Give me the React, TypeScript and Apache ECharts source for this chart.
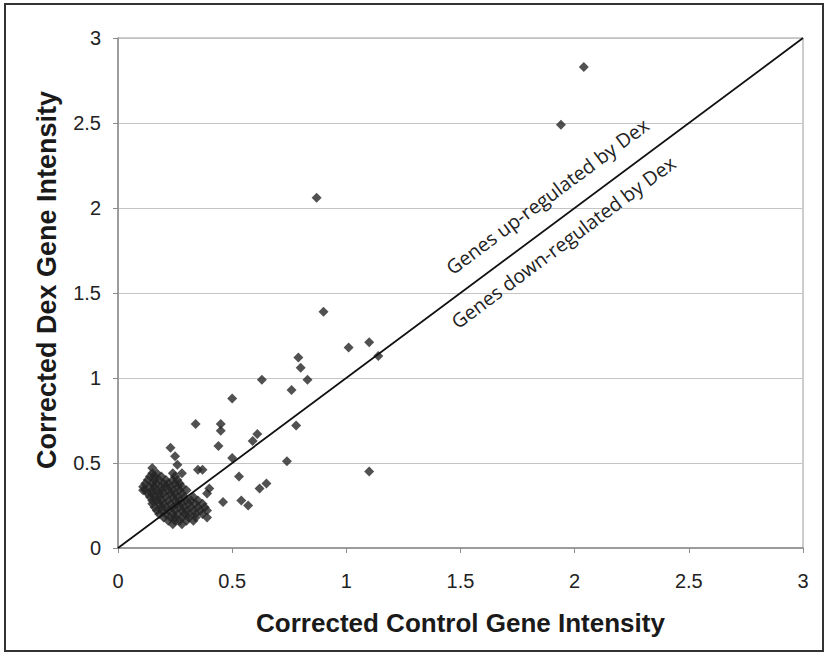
import React, { useEffect, useRef } from "react";
import * as echarts from "echarts";

const xTitle = "Corrected Control Gene Intensity";
const yTitle = "Corrected Dex Gene Intensity";
const upLabel = "Genes up-regulated by Dex";
const downLabel = "Genes down-regulated by Dex";

const axisMin = 0;
const axisMax = 3;
const axisInterval = 0.5;

// identity line endpoints (x = y)
const diagonal: number[][] = [
  [0, 0],
  [3, 3],
];

// anchor points (data coordinates) for the two annotations
const upLabelAnchor = [1.88, 2.07];
const downLabelAnchor = [1.95, 1.8];

// scattered genes outside the dense cluster
const scatterPoints: number[][] = [
  [2.04, 2.83], [1.94, 2.49], [0.87, 2.06], [0.9, 1.39],
  [1.01, 1.18], [1.1, 1.21], [1.14, 1.13], [0.79, 1.12],
  [0.8, 1.06], [0.83, 0.99], [0.63, 0.99], [0.76, 0.93],
  [0.5, 0.88], [0.34, 0.73], [0.45, 0.73], [0.45, 0.69],
  [0.78, 0.72], [0.61, 0.67], [0.59, 0.63], [0.44, 0.6],
  [0.23, 0.59], [0.25, 0.54], [0.5, 0.53], [0.74, 0.51],
  [1.1, 0.45], [0.26, 0.49], [0.35, 0.46], [0.37, 0.46],
  [0.53, 0.42], [0.28, 0.44], [0.62, 0.35], [0.65, 0.38],
  [0.46, 0.27], [0.54, 0.28], [0.57, 0.25], [0.39, 0.18],
  [0.39, 0.32], [0.4, 0.35], [0.11, 0.34], [0.15, 0.47],
];

// dense cluster of low-intensity genes
const clusterPoints: number[][] = [
  [0.15, 0.44], [0.17, 0.44], [0.24, 0.44],
  [0.14, 0.42], [0.16, 0.42], [0.19, 0.42], [0.25, 0.42],
  [0.13, 0.4], [0.16, 0.4], [0.18, 0.4], [0.21, 0.4], [0.24, 0.4], [0.26, 0.4],
  [0.12, 0.38], [0.15, 0.38], [0.17, 0.38], [0.2, 0.38], [0.22, 0.38], [0.25, 0.38], [0.27, 0.38],
  [0.11, 0.36], [0.14, 0.36], [0.16, 0.36], [0.19, 0.36], [0.21, 0.36], [0.23, 0.36], [0.26, 0.36], [0.28, 0.36],
  [0.12, 0.34], [0.15, 0.34], [0.17, 0.34], [0.19, 0.34], [0.22, 0.34], [0.24, 0.34], [0.27, 0.34], [0.3, 0.34],
  [0.13, 0.32], [0.15, 0.32], [0.18, 0.32], [0.2, 0.32], [0.23, 0.32], [0.25, 0.32], [0.28, 0.32],
  [0.14, 0.3], [0.16, 0.3], [0.18, 0.3], [0.21, 0.3], [0.24, 0.3], [0.26, 0.3], [0.29, 0.3], [0.33, 0.3],
  [0.15, 0.28], [0.17, 0.28], [0.19, 0.28], [0.22, 0.28], [0.25, 0.28], [0.27, 0.28], [0.3, 0.28], [0.32, 0.28], [0.35, 0.28],
  [0.15, 0.26], [0.18, 0.26], [0.2, 0.26], [0.23, 0.26], [0.26, 0.26], [0.28, 0.26], [0.31, 0.26], [0.34, 0.26], [0.37, 0.26],
  [0.16, 0.24], [0.19, 0.24], [0.21, 0.24], [0.24, 0.24], [0.27, 0.24], [0.29, 0.24], [0.32, 0.24], [0.35, 0.24], [0.38, 0.24],
  [0.17, 0.22], [0.19, 0.22], [0.22, 0.22], [0.25, 0.22], [0.28, 0.22], [0.3, 0.22], [0.33, 0.22], [0.36, 0.22], [0.39, 0.22],
  [0.18, 0.2], [0.21, 0.2], [0.24, 0.2], [0.26, 0.2], [0.29, 0.2], [0.31, 0.2], [0.34, 0.2], [0.37, 0.2],
  [0.2, 0.18], [0.23, 0.18], [0.25, 0.18], [0.28, 0.18], [0.31, 0.18], [0.34, 0.18],
  [0.22, 0.16], [0.25, 0.16], [0.27, 0.16], [0.3, 0.16], [0.33, 0.16],
  [0.24, 0.14], [0.28, 0.14],
];

export default function App() {
  const ref = useRef<HTMLDivElement>(null);

  useEffect(() => {
    if (!ref.current) return;
    const chart = echarts.init(ref.current, null, { renderer: "svg" });
    const labelFont = "'Liberation Sans', Arial, sans-serif";
    const option: any = {
      animation: false,
      backgroundColor: "#ffffff",
      grid: {
        left: 118,
        top: 38,
        right: 24,
        bottom: 108,
        show: true,
        borderColor: "#9a9a9a",
        borderWidth: 1,
        backgroundColor: "transparent",
      },
      xAxis: {
        type: "value",
        min: axisMin,
        max: axisMax,
        interval: axisInterval,
        name: xTitle,
        nameLocation: "middle",
        nameGap: 62,
        nameTextStyle: {
          fontFamily: labelFont,
          fontWeight: "bold",
          fontSize: 26,
          color: "#1a1a1a",
        },
        axisLine: { show: true, lineStyle: { color: "#8c8c8c", width: 1.5 } },
        axisTick: { show: true, inside: false, length: 5, lineStyle: { color: "#8c8c8c" } },
        splitLine: { show: false },
        axisLabel: { fontFamily: labelFont, fontSize: 20, color: "#222", margin: 23 },
      },
      yAxis: {
        type: "value",
        min: axisMin,
        max: axisMax,
        interval: axisInterval,
        name: yTitle,
        nameLocation: "middle",
        nameGap: 58,
        nameTextStyle: {
          fontFamily: labelFont,
          fontWeight: "bold",
          fontSize: 27,
          color: "#1a1a1a",
          padding: [0, 0, 0, 26],
        },
        axisLine: { show: true, lineStyle: { color: "#8c8c8c", width: 1.5 } },
        axisTick: { show: true, inside: false, length: 5, lineStyle: { color: "#8c8c8c" } },
        splitLine: { show: true, lineStyle: { color: "#c4c4c4", width: 1 } },
        axisLabel: { fontFamily: labelFont, fontSize: 20, color: "#222", margin: 17 },
      },
      series: [
        {
          type: "scatter",
          data: clusterPoints,
          symbol: "diamond",
          symbolSize: 10,
          itemStyle: { color: "#262626" },
          z: 2,
        },
        {
          type: "scatter",
          data: scatterPoints,
          symbol: "diamond",
          symbolSize: 10,
          itemStyle: { color: "#262626" },
          z: 2,
        },
        {
          type: "line",
          data: diagonal,
          showSymbol: false,
          symbol: "none",
          lineStyle: { color: "#111", width: 1.8 },
          z: 5,
        },
      ],
    };
    chart.setOption(option);

    const p0 = chart.convertToPixel({ gridIndex: 0 }, diagonal[0]) as number[];
    const p1 = chart.convertToPixel({ gridIndex: 0 }, diagonal[1]) as number[];
    const angle = Math.atan2(p0[1] - p1[1], p1[0] - p0[0]);
    const up = chart.convertToPixel({ gridIndex: 0 }, upLabelAnchor) as number[];
    const down = chart.convertToPixel({ gridIndex: 0 }, downLabelAnchor) as number[];
    const annFont = "'Open Sans', 'Noto Sans', sans-serif";

    chart.setOption({
      graphic: [
        {
          type: "rect",
          shape: { x: 5, y: 4, width: 818, height: 647 },
          style: { fill: "none", stroke: "#333", lineWidth: 2 },
          silent: true,
          z: 10,
        },
        {
          type: "text",
          x: up[0],
          y: up[1],
          rotation: angle,
          style: {
            text: upLabel,
            fontFamily: annFont,
            fontSize: 19.5,
            fill: "#222",
            align: "center",
            verticalAlign: "middle",
          },
          z: 10,
        },
        {
          type: "text",
          x: down[0],
          y: down[1],
          rotation: angle,
          style: {
            text: downLabel,
            fontFamily: annFont,
            fontSize: 19.5,
            fill: "#222",
            align: "center",
            verticalAlign: "middle",
          },
          z: 10,
        },
      ],
    });

    return () => chart.dispose();
  }, []);

  return (
    <div
      ref={ref}
      style={{ position: "fixed", left: 0, top: 0, width: 827, height: 656, background: "#fff" }}
    />
  );
}
